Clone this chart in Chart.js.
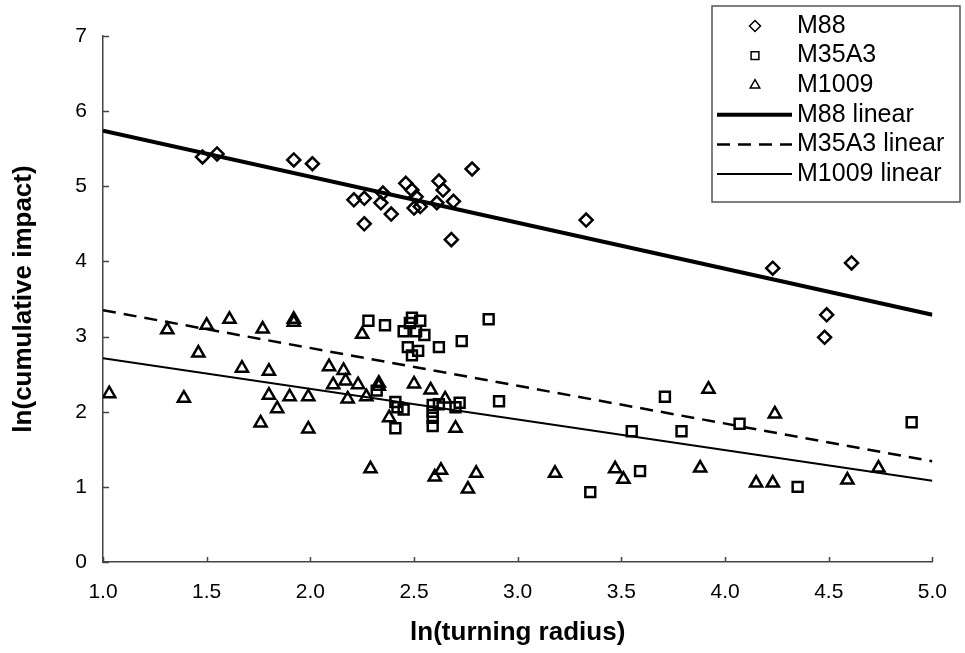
<!DOCTYPE html>
<html lang="en">
<head>
<meta charset="utf-8">
<title>ln(cumulative impact) vs ln(turning radius)</title>
<script src="https://cdn.jsdelivr.net/npm/chart.js@4"></script>
<style>
  html, body { margin: 0; padding: 0; background: #fff; }
</style>
</head>
<body>
<canvas id="chart" width="965" height="653"></canvas>
<script>
// values, x = ln(turning radius), y = ln(cumulative impact)
const m88X = [1.48, 1.55, 1.92, 2.01, 2.21, 2.26, 2.35, 2.34, 2.39, 2.26, 2.46, 2.49, 2.51,
              2.53, 2.50, 2.62, 2.64, 2.61, 2.69, 2.68, 2.78, 3.33, 4.23, 4.61, 4.49, 4.48];
const m88Y = [5.39, 5.43, 5.35, 5.30, 4.82, 4.84, 4.91, 4.78, 4.63, 4.50, 5.04, 4.95, 4.86,
              4.73, 4.71, 5.07, 4.95, 4.78, 4.80, 4.29, 5.23, 4.55, 3.91, 3.98, 3.29, 2.99];

const m35X = [2.28, 2.36, 2.49, 2.53, 2.48, 2.45, 2.51, 2.55, 2.47, 2.52, 2.49, 2.62, 2.73,
              2.86, 2.32, 2.41, 2.42, 2.45, 2.41, 2.59, 2.59, 2.59, 2.59, 2.62, 2.72, 2.70,
              2.91, 3.71, 3.55, 3.79, 4.07, 4.90, 3.59, 3.35, 4.35];
const m35Y = [3.21, 3.15, 3.25, 3.21, 3.18, 3.07, 3.07, 3.02, 2.86, 2.81, 2.75, 2.86, 2.94,
              3.23, 2.28, 2.13, 2.06, 2.03, 1.78, 2.09, 2.00, 1.92, 1.81, 2.10, 2.12, 2.06,
              2.14, 2.20, 1.74, 1.74, 1.84, 1.86, 1.21, 0.93, 1.00];

const m1009X = [1.03, 1.31, 1.50, 1.61, 1.77, 1.92, 1.92, 1.46, 1.39, 1.67, 1.80, 1.80, 1.90,
                1.99, 1.84, 1.76, 1.99, 2.09, 2.11, 2.25, 2.16, 2.17, 2.23, 2.18, 2.27, 2.33,
                2.33, 2.38, 2.50, 2.58, 2.65, 2.70, 2.29, 2.63, 2.60, 2.80, 3.18, 2.76, 3.92,
                4.24, 4.74, 3.47, 3.51, 3.88, 4.15, 4.23, 4.59];
const m1009Y = [2.24, 3.09, 3.15, 3.23, 3.10, 3.23, 3.19, 2.78, 2.18, 2.58, 2.54, 2.22, 2.20,
                2.20, 2.04, 1.85, 1.77, 2.60, 2.36, 3.03, 2.55, 2.41, 2.36, 2.17, 2.20, 2.38,
                2.34, 1.92, 2.37, 2.29, 2.17, 1.78, 1.24, 1.22, 1.13, 1.18, 1.18, 0.97, 2.30,
                1.97, 1.25, 1.24, 1.10, 1.25, 1.05, 1.05, 1.09];

// trend lines, end points read at x = 1.0 and x = 5.0
const fitX = [1.0, 5.0];
const m88Fit = [5.74, 3.29];
const m35Fit = [3.35, 1.34];
const m1009Fit = [2.71, 1.08];

const xTicks = [1.0, 1.5, 2.0, 2.5, 3.0, 3.5, 4.0, 4.5, 5.0];
const yTicks = [0, 1, 2, 3, 4, 5, 6, 7];

const FONT = "'Liberation Sans', Arial, Helvetica, sans-serif";

function pts(xs, ys) {
  return xs.map((x, i) => ({x: x, y: ys[i]}));
}

// small inward tick marks like the original
const innerTicks = {
  id: 'innerTicks',
  afterDatasetsDraw(chart) {
    const ctx = chart.ctx;
    const xs = chart.scales.x, ys = chart.scales.y;
    const area = chart.chartArea;
    ctx.save();
    ctx.strokeStyle = '#444';
    ctx.lineWidth = 1.5;
    ctx.beginPath();
    xTicks.forEach(v => {
      const px = Math.round(xs.getPixelForValue(v)) + 0.5;
      ctx.moveTo(px, area.bottom);
      ctx.lineTo(px, area.bottom - 5);
    });
    yTicks.forEach(v => {
      const py = Math.round(ys.getPixelForValue(v)) + 0.5;
      ctx.moveTo(area.left, py);
      ctx.lineTo(area.left + 6, py);
    });
    ctx.stroke();
    ctx.restore();
  }
};

// boxed legend in the upper right corner
const legendBox = {
  id: 'legendBox',
  afterDraw(chart, args, o) {
    const ctx = chart.ctx;
    ctx.save();
    ctx.fillStyle = '#fff';
    ctx.fillRect(o.left, o.top, o.right - o.left, o.bottom - o.top);
    ctx.strokeStyle = '#555';
    ctx.lineWidth = 1.5;
    ctx.strokeRect(o.left, o.top, o.right - o.left, o.bottom - o.top);

    ctx.font = o.fontSize + 'px ' + FONT;
    ctx.textBaseline = 'middle';
    ctx.textAlign = 'left';
    chart.data.datasets.forEach((ds, i) => {
      const y = o.top + o.firstRow + i * o.rowGap;
      ctx.strokeStyle = '#000';
      if (ds.showLine) {
        ctx.lineWidth = ds.borderWidth;
        ctx.setLineDash(ds.borderDash || []);
        ctx.beginPath();
        ctx.moveTo(o.lineFrom, y);
        ctx.lineTo(o.lineTo, y);
        ctx.stroke();
        ctx.setLineDash([]);
      } else {
        ctx.fillStyle = '#fff';
        Chart.helpers.drawPoint(ctx, {
          pointStyle: ds.pointStyle,
          radius: o.markRadius,
          borderWidth: 2,
          rotation: 0
        }, o.markX, y);
      }
      ctx.fillStyle = '#000';
      ctx.fillText(ds.label, o.textX, y);
    });
    ctx.restore();
  }
};

const ctx = document.getElementById('chart').getContext('2d');
const chart = new Chart(ctx, {
  type: 'scatter',
  data: {
    datasets: [
      {label: 'M88', data: pts(m88X, m88Y), pointStyle: 'rectRot', pointRadius: 6.5,
       borderColor: '#000', backgroundColor: 'rgba(255,255,255,0)', borderWidth: 2.5},
      {label: 'M35A3', data: pts(m35X, m35Y), pointStyle: 'rect', pointRadius: 7,
       borderColor: '#000', backgroundColor: 'rgba(255,255,255,0)', borderWidth: 2.5},
      {label: 'M1009', data: pts(m1009X, m1009Y), pointStyle: 'triangle', pointRadius: 7,
       borderColor: '#000', backgroundColor: 'rgba(255,255,255,0)', borderWidth: 2.5},
      {label: 'M88 linear', data: pts(fitX, m88Fit), showLine: true, pointRadius: 0,
       borderColor: '#000', borderWidth: 4},
      {label: 'M35A3 linear', data: pts(fitX, m35Fit), showLine: true, pointRadius: 0,
       borderColor: '#000', borderWidth: 2.5, borderDash: [13, 8]},
      {label: 'M1009 linear', data: pts(fitX, m1009Fit), showLine: true, pointRadius: 0,
       borderColor: '#000', borderWidth: 2}
    ]
  },
  options: {
    responsive: false,
    animation: false,
    events: [],
    layout: {padding: {top: 36, right: 32, left: 0, bottom: 0}},
    scales: {
      x: {
        type: 'linear',
        min: 1, max: 5,
        afterBuildTicks: s => { s.ticks = xTicks.map(v => ({value: v})); },
        afterFit: s => { s.height = 91; },
        grid: {display: false, drawTicks: false},
        border: {display: true, color: '#444', width: 1.5},
        ticks: {
          callback: v => Number(v).toFixed(1),
          color: '#000',
          padding: 18,
          maxRotation: 0,
          font: {family: FONT, size: 21}
        },
        title: {
          display: true,
          text: 'ln(turning radius)',
          color: '#000',
          padding: {top: 0, bottom: 5},
          font: {family: FONT, size: 26, weight: 'bold'}
        }
      },
      y: {
        type: 'linear',
        min: 0, max: 7,
        afterBuildTicks: s => { s.ticks = yTicks.map(v => ({value: v})); },
        afterFit: s => { s.width = 103; },
        grid: {display: false, drawTicks: false},
        border: {display: true, color: '#444', width: 1.5},
        ticks: {
          color: '#000',
          padding: 16,
          font: {family: FONT, size: 21}
        },
        title: {
          display: true,
          text: 'ln(cumulative impact)',
          color: '#000',
          padding: {top: 8, bottom: 0},
          font: {family: FONT, size: 26, weight: 'bold'}
        }
      }
    },
    plugins: {
      legend: {display: false},
      tooltip: {enabled: false},
      legendBox: {
        left: 712, top: 6, right: 960, bottom: 202,
        firstRow: 20, rowGap: 29.6,
        markX: 755, markRadius: 5.5,
        lineFrom: 717, lineTo: 792,
        textX: 797, fontSize: 25
      }
    }
  },
  plugins: [innerTicks, legendBox]
});
</script>
</body>
</html>
